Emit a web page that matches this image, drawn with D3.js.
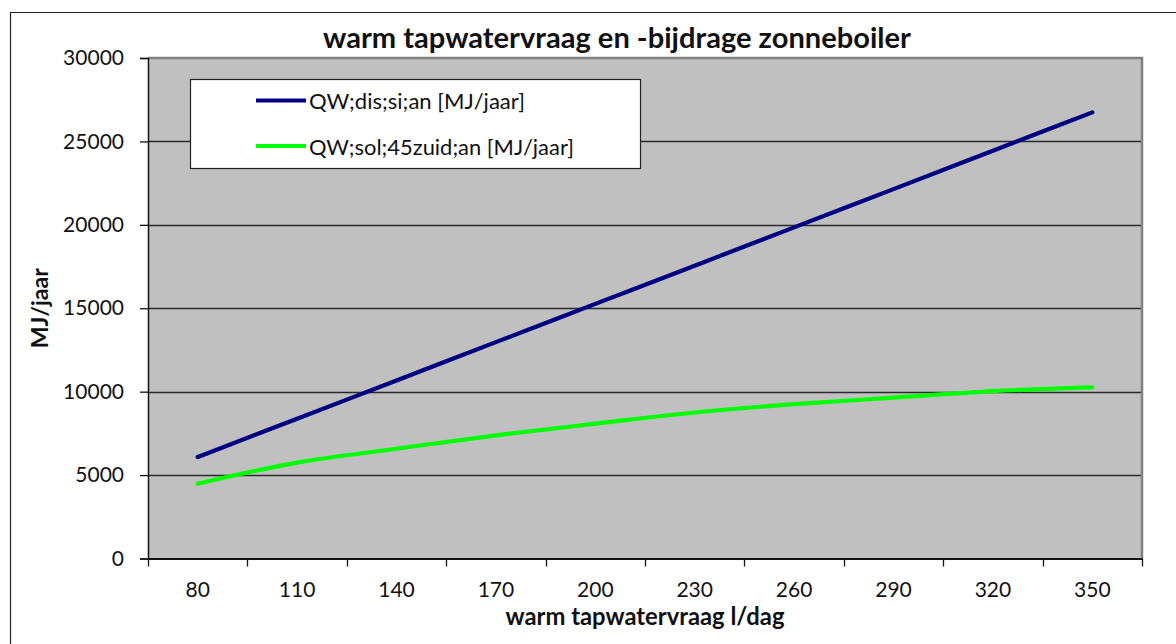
<!DOCTYPE html>
<html>
<head>
<meta charset="utf-8">
<script src="https://cdn.jsdelivr.net/npm/d3@7"></script>
<style>
  html, body { margin: 0; padding: 0; background: #fff; }
  svg { display: block; }
  text { font-family: Lato, "Open Sans", sans-serif; fill: #111; }
</style>
</head>
<body>
<svg id="chart" width="1176" height="644"></svg>
<script>
// ---- data ----
const categories = ["80", "110", "140", "170", "200", "230", "260", "290", "320", "350"];
const seriesNames = ["QW;dis;si;an [MJ/jaar]", "QW;sol;45zuid;an [MJ/jaar]"];
const disValues = [6080, 8380, 10670, 12970, 15260, 17550, 19850, 22140, 24440, 26740];
const solValues = [4480, 5750, 6580, 7380, 8080, 8750, 9250, 9640, 10030, 10260];
const yTicks = [0, 5000, 10000, 15000, 20000, 25000, 30000];
const titleText = "warm tapwatervraag en -bijdrage zonneboiler";
const xTitle = "warm tapwatervraag l/dag";
const yTitle = "MJ/jaar";

const seriesColors = ["#000080", "#00ff00"];
const series = [disValues, solValues];

const svg = d3.select("#chart");

// outer chart frame (clipped at right/bottom as in the reference)
svg.append("path")
  .attr("d", "M10.5,660 L10.5,12.5 L1190,12.5")
  .attr("fill", "none").attr("stroke", "#222").attr("stroke-width", 1.2);

const plot = { left: 148, right: 1142, top: 58, bottom: 558.5 };

const x = d3.scaleBand().domain(categories).range([plot.left, plot.right]).paddingInner(0).paddingOuter(0);
const y = d3.scaleLinear().domain([0, 30000]).range([plot.bottom, plot.top]);

// plot background
svg.append("rect")
  .attr("x", plot.left).attr("y", plot.top)
  .attr("width", plot.right - plot.left).attr("height", plot.bottom - plot.top)
  .attr("fill", "#c0c0c0");

// gridlines
svg.append("g").selectAll("line")
  .data(yTicks.filter(t => t > 0 && t < 30000))
  .join("line")
  .attr("x1", plot.left).attr("x2", plot.right)
  .attr("y1", d => Math.round(y(d)) + 0.5).attr("y2", d => Math.round(y(d)) + 0.5)
  .attr("stroke", "#2a2a2a").attr("stroke-width", 1.6);

// plot border (top/right gray)
svg.append("path")
  .attr("d", `M${plot.left},${plot.top} L${plot.right},${plot.top} L${plot.right},${plot.bottom}`)
  .attr("fill", "none").attr("stroke", "#808080").attr("stroke-width", 2.5);

// y axis
const yAxis = d3.axisLeft(y).tickValues(yTicks).tickSize(8).tickPadding(16).tickFormat(d3.format("d"));
const gy = svg.append("g").attr("transform", `translate(${plot.left},0)`).call(yAxis);
gy.select(".domain").attr("stroke", "#111").attr("stroke-width", 1.5);
gy.selectAll(".tick line").attr("stroke", "#111").attr("stroke-width", 1.3);
gy.selectAll(".tick text").style("font-size", "21px").style("font-family", "Lato").attr("fill", "#222");

// x axis: labels at band centers, tick marks at band boundaries
const xAxis = d3.axisBottom(x).tickSize(0).tickPadding(24);
const gx = svg.append("g").attr("transform", `translate(0,${plot.bottom})`).call(xAxis);
gx.select(".domain").attr("stroke", "#111").attr("stroke-width", 2);
gx.selectAll(".tick text").style("font-size", "21px").style("font-family", "Lato").attr("fill", "#222");

const boundaries = categories.map(c => x(c)).concat([x.range()[1]]);
svg.append("g").selectAll("line")
  .data(boundaries)
  .join("line")
  .attr("x1", d => Math.round(d) + 0.5).attr("x2", d => Math.round(d) + 0.5)
  .attr("y1", plot.bottom).attr("y2", plot.bottom + 8)
  .attr("stroke", "#111").attr("stroke-width", 1.3);

// lines
const line = d3.line()
  .x((d, i) => x(categories[i]) + x.bandwidth() / 2)
  .y(d => y(d))
  .curve(d3.curveMonotoneX);

series.forEach((vals, si) => {
  svg.append("path")
    .datum(vals)
    .attr("d", line)
    .attr("fill", "none")
    .attr("stroke", seriesColors[si])
    .attr("stroke-width", 4.2)
    .attr("stroke-linecap", "round")
    .attr("stroke-linejoin", "round");
});

// helper: fit text to a width
function fitText(sel, target) {
  const fs = parseFloat(sel.style("font-size"));
  const w = sel.node().getComputedTextLength();
  sel.style("font-size", (fs * target / w).toFixed(2) + "px");
}

// legend
const lg = svg.append("g");
lg.append("rect")
  .attr("x", 190.5).attr("y", 79.5).attr("width", 450).attr("height", 89)
  .attr("fill", "#fff").attr("stroke", "#222").attr("stroke-width", 1.2);
const legendY = [100.5, 146];
const legendTextW = [216, 265];
seriesNames.forEach((name, i) => {
  lg.append("line")
    .attr("x1", 256).attr("x2", 306)
    .attr("y1", legendY[i]).attr("y2", legendY[i])
    .attr("stroke", seriesColors[i]).attr("stroke-width", 4.2);
  const t = lg.append("text")
    .attr("x", 309).attr("y", legendY[i])
    .attr("dominant-baseline", "central")
    .style("font-size", "20px")
    .attr("fill", "#111")
    .text(name);
  fitText(t, legendTextW[i]);
});

// title
const tt = svg.append("text")
  .attr("x", 617).attr("y", 48)
  .attr("text-anchor", "middle")
  .style("font-size", "26px").style("font-weight", "bold")
  .text(titleText);
fitText(tt, 588);

// x title
const xt = svg.append("text")
  .attr("x", (plot.left + plot.right) / 2).attr("y", 625)
  .attr("text-anchor", "middle")
  .style("font-size", "20px").style("font-weight", "bold")
  .text(xTitle);
fitText(xt, 279);

// y title
const yt = svg.append("text")
  .attr("transform", `translate(48,${(plot.top + plot.bottom) / 2}) rotate(-90)`)
  .attr("text-anchor", "middle")
  .style("font-size", "20px").style("font-weight", "bold")
  .text(yTitle);
fitText(yt, 80);
</script>
</body>
</html>
